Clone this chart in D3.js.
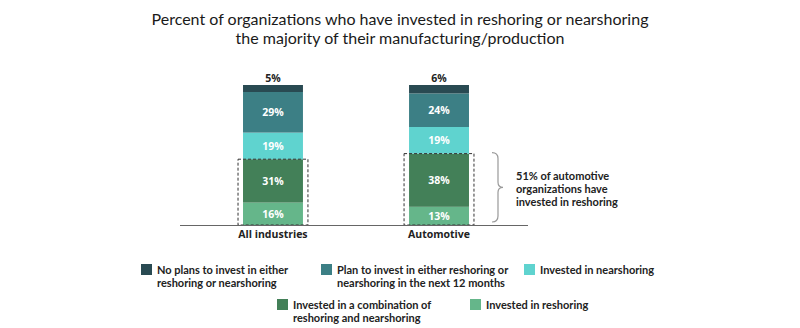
<!DOCTYPE html>
<html><head><meta charset="utf-8">
<script src="https://cdn.jsdelivr.net/npm/d3@7"></script>
<style>
body{margin:0;background:#fff;}
svg{display:block;font-family:"Open Sans","Noto Sans",sans-serif;}
.small{font-family:Lato,"Open Sans",sans-serif;}
</style></head>
<body>
<svg id="chart" width="800" height="328"></svg>
<script>
const categories = ["All industries", "Automotive"];
const seriesNames = [
  "Invested in reshoring",
  "Invested in a combination of reshoring and nearshoring",
  "Invested in nearshoring",
  "Plan to invest in either reshoring or nearshoring in the next 12 months",
  "No plans to invest in either reshoring or nearshoring"
];
const reshoring = [16, 13];
const combination = [31, 38];
const nearshoring = [19, 19];
const planToInvest = [29, 24];
const noPlans = [5, 6];
const colors = ["#65b68a", "#438058", "#5fd3cf", "#3c7f85", "#294a52"];
const title = ["Percent of organizations who have invested in reshoring or nearshoring",
               "the majority of their manufacturing/production"];
const annotation = ["51% of automotive", "organizations have", "invested in reshoring"];

const svg = d3.select("#chart");
const seriesValues = [reshoring, combination, nearshoring, planToInvest, noPlans];
const data = categories.map((c, i) => {
  const o = {cat: c};
  seriesNames.forEach((s, k) => o[s] = seriesValues[k][i]);
  return o;
});
const stack = d3.stack().keys(seriesNames)(data);

const x = d3.scaleBand().domain(categories).range([160, 552]).paddingInner(0.639).paddingOuter(0.5);
const y = d3.scaleLinear().domain([0, 100]).range([225, 85]);

// title
svg.append("text").attr("class", "small").attr("x", 400).attr("y", 25)
  .attr("text-anchor", "middle").attr("font-size", 16).attr("fill", "#1a1a1a")
  .selectAll("tspan").data(title).join("tspan")
  .attr("x", 400).attr("dy", (d, i) => i === 0 ? 0 : 19.2).text(d => d);

// bars
const g = svg.append("g");
stack.forEach((layer, k) => {
  g.append("g").attr("fill", colors[k]).selectAll("rect").data(layer).join("rect")
    .attr("x", d => x(d.data.cat)).attr("width", x.bandwidth())
    .attr("y", d => y(d[1])).attr("height", d => y(d[0]) - y(d[1]));
  g.append("g").selectAll("text").data(layer).join("text")
    .attr("x", d => x(d.data.cat) + x.bandwidth() / 2)
    .attr("y", d => k === 4 ? y(d[1]) - 3 : (y(d[0]) + y(d[1])) / 2 + 4)
    .attr("text-anchor", "middle").attr("font-size", 10.5).attr("font-weight", 700)
    .attr("fill", k === 4 ? "#222" : "#fff")
    .text(d => (d[1] - d[0]) + "%");
});

// dashed boxes around reshoring + combination
g.append("g").selectAll("rect").data(stack[1]).join("rect")
  .attr("x", d => x(d.data.cat) - 5).attr("width", x.bandwidth() + 10)
  .attr("y", d => y(d[1])).attr("height", d => y(0) - y(d[1]))
  .attr("fill", "none").attr("stroke", "#333").attr("stroke-width", 1).attr("stroke-dasharray", "3,2");

// baseline axis
const axis = d3.axisBottom(x).tickSize(0).tickPadding(6);
const ax = svg.append("g").attr("transform", `translate(0,${y(0)})`).call(axis);
ax.select(".domain").attr("d", "M180,0.5H528").attr("stroke", "#666");
ax.selectAll("text").attr("font-size", 10.5).attr("font-weight", 700).attr("fill", "#222")
  .attr("font-family", "'Open Sans','Noto Sans',sans-serif");

// brace annotation
const autoTop = y(stack[1][1][1]);
const bx = 492, by0 = autoTop - 1, by1 = y(0) - 3, bm = (by0 + by1) / 2;
svg.append("path")
  .attr("d", `M${bx},${by0} Q${bx+6},${by0} ${bx+6},${by0+6} L${bx+6},${bm-5} Q${bx+6},${bm} ${bx+11},${bm} Q${bx+6},${bm} ${bx+6},${bm+5} L${bx+6},${by1-6} Q${bx+6},${by1} ${bx},${by1}`)
  .attr("fill", "none").attr("stroke", "#999").attr("stroke-width", 1.2);
svg.append("text").attr("class", "small").attr("x", 516).attr("y", 180)
  .attr("font-size", 11).attr("font-weight", 700).attr("fill", "#222")
  .selectAll("tspan").data(annotation).join("tspan")
  .attr("x", 516).attr("dy", (d, i) => i === 0 ? 0 : 13.2).text(d => d);

// legend
const legendItems = [
  {k: 4, x: 141, y: 264, lines: ["No plans to invest in either", "reshoring or nearshoring"]},
  {k: 3, x: 321, y: 264, lines: ["Plan to invest in either reshoring or", "nearshoring in the next 12 months"]},
  {k: 2, x: 524, y: 264, lines: ["Invested in nearshoring"]},
  {k: 1, x: 277, y: 299, lines: ["Invested in a combination of", "reshoring and nearshoring"]},
  {k: 0, x: 470, y: 299, lines: ["Invested in reshoring"]}
];
const lg = svg.append("g").selectAll("g").data(legendItems).join("g")
  .attr("transform", d => `translate(${d.x},${d.y})`);
lg.append("rect").attr("width", 11).attr("height", 11).attr("fill", d => colors[d.k]);
lg.each(function(d) {
  d3.select(this).append("text").attr("class", "small").attr("x", 16).attr("y", 9.5)
    .attr("font-size", 11).attr("font-weight", 700).attr("fill", "#222")
    .selectAll("tspan").data(d.lines).join("tspan")
    .attr("x", 16).attr("dy", (t, i) => i === 0 ? 0 : 13.2).text(t => t);
});
</script>
</body></html>
